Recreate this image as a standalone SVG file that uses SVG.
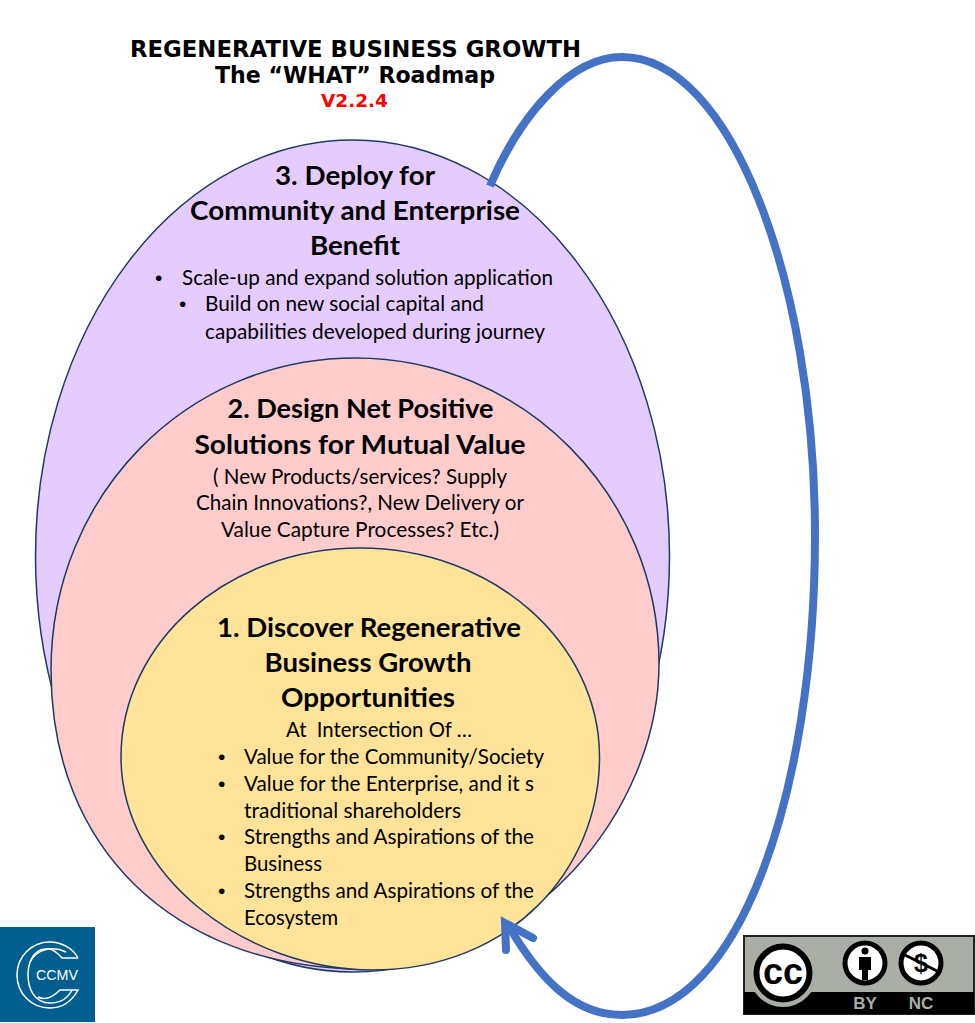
<svg xmlns="http://www.w3.org/2000/svg" width="975" height="1023" viewBox="0 0 975 1023">
<style>
.t{font-family:"DejaVu Sans",sans-serif;font-weight:700;text-anchor:middle;fill:#000}
.h{font-family:Lato,"Open Sans",sans-serif;font-weight:700;font-size:27.500px;text-anchor:middle;fill:#000}
.b{font-family:Lato,"Open Sans",sans-serif;font-size:21px;fill:#000}
.d{font-family:"Liberation Sans",sans-serif;font-size:21px;fill:#000}
.m{text-anchor:middle}
.e{stroke:#1f3864;stroke-width:1.5}
.flow{fill:none;stroke:#4472c4;stroke-width:8}
.w{fill:none;stroke:#fff;stroke-width:1.5}
.l{font-family:"Liberation Sans",sans-serif;text-anchor:middle}
</style>
<rect width="975" height="1023" fill="#fff"/>
<g id="title">
<text class="t" x="355.500" y="56.500" font-size="22.800" textLength="451" lengthAdjust="spacingAndGlyphs">REGENERATIVE BUSINESS GROWTH</text>
<text class="t" x="355" y="83" font-size="22.500" textLength="280" lengthAdjust="spacingAndGlyphs">The “WHAT” Roadmap</text>
<text class="t" x="354.500" y="106.500" font-size="18.500" textLength="67" lengthAdjust="spacingAndGlyphs" style="fill:#f00">V2.2.4</text>
</g>
<g id="node-3">
<ellipse class="e" cx="352.500" cy="556" rx="317" ry="416" fill="#e5ccff"/>
<text class="h" x="355" y="185" textLength="160" lengthAdjust="spacingAndGlyphs">3. Deploy for</text>
<text class="h" x="355" y="220" textLength="330" lengthAdjust="spacingAndGlyphs">Community and Enterprise</text>
<text class="h" x="355" y="255" textLength="90" lengthAdjust="spacingAndGlyphs">Benefit</text>
<text class="d" x="155" y="285">•</text>
<text class="b" x="182" y="285" textLength="371" lengthAdjust="spacingAndGlyphs">Scale-up and expand solution application</text>
<text class="d" x="179" y="311">•</text>
<text class="b" x="205" y="311" textLength="279" lengthAdjust="spacingAndGlyphs">Build on new social capital and</text>
<text class="b" x="205" y="339" textLength="340" lengthAdjust="spacingAndGlyphs">capabilities developed during journey</text>
</g>
<g id="node-2">
<path class="e" d="M355 358C523 358 659 495 659 664C659 810 530 969 355 969C175 965 51 850 51 670C51 495 187 358 355 358Z" fill="#ffcccc"/>
<text class="h" x="360.500" y="418" textLength="266" lengthAdjust="spacingAndGlyphs">2. Design Net Positive</text>
<text class="h" x="360" y="454" textLength="331" lengthAdjust="spacingAndGlyphs">Solutions for Mutual Value</text>
<text class="b m" x="360" y="484" textLength="294" lengthAdjust="spacingAndGlyphs">( New Products/services? Supply</text>
<text class="b m" x="360" y="510" textLength="328" lengthAdjust="spacingAndGlyphs">Chain Innovations?, New Delivery or</text>
<text class="b m" x="360" y="537" textLength="278" lengthAdjust="spacingAndGlyphs">Value Capture Processes? Etc.)</text>
</g>
<g id="node-1">
<path class="e" d="M360 548C492 548 599.500 642 599.500 757C599.500 870 510 970 372 970C245 970 121 875 121 757C121 642 228 548 360 548Z" fill="#ffe399"/>
<text class="h" x="369" y="637" textLength="304" lengthAdjust="spacingAndGlyphs">1. Discover Regenerative</text>
<text class="h" x="368" y="672" textLength="207" lengthAdjust="spacingAndGlyphs">Business Growth</text>
<text class="h" x="368" y="707" textLength="174" lengthAdjust="spacingAndGlyphs">Opportunities</text>
<text class="b m" x="379" y="737" textLength="186" lengthAdjust="spacingAndGlyphs" xml:space="preserve">At  Intersection Of …</text>
<text class="d" x="218" y="764">•</text>
<text class="b" x="244" y="764" textLength="300" lengthAdjust="spacingAndGlyphs">Value for the Community/Society</text>
<text class="d" x="218" y="791">•</text>
<text class="b" x="244" y="791" textLength="290" lengthAdjust="spacingAndGlyphs">Value for the Enterprise, and it s</text>
<text class="b" x="244" y="818" textLength="217" lengthAdjust="spacingAndGlyphs">traditional shareholders</text>
<text class="d" x="218" y="844">•</text>
<text class="b" x="244" y="844" textLength="290" lengthAdjust="spacingAndGlyphs">Strengths and Aspirations of the</text>
<text class="b" x="244" y="871" textLength="78" lengthAdjust="spacingAndGlyphs">Business</text>
<text class="d" x="218" y="898">•</text>
<text class="b" x="244" y="898" textLength="290" lengthAdjust="spacingAndGlyphs">Strengths and Aspirations of the</text>
<text class="b" x="244" y="925" textLength="94" lengthAdjust="spacingAndGlyphs">Ecosystem</text>
</g>
<g id="connectors">
<path class="flow" d="M490 186C520 115 570 57 622 57C730 57 815 280 815 535C815 790 740 1015 622 1015C575 1015 540 980 508 925"/>
<path class="flow" stroke-linecap="round" stroke-linejoin="miter" d="M506 950L505 923L533 938"/>
</g>
<g id="ccmv-logo">
<rect x="0" y="927" width="95" height="95" fill="#005f8f"/>
<path class="w" d="M78 958C72 947 60 942 50 942C31 942 17 957 17 975C17 993 31 1008 50 1008C62 1008 72 1001 78 990H60C52 998 44 1000 38 997"/>
<path class="w" d="M78 958H62C56 951 50 948 45 949C33 950 28 963 28 975C28 988 34 1003 50 1003C60 1003 68 998 72 990"/>
<path class="w" d="M30 962C36 950 52 945 66 952"/>
<text class="l" x="57" y="980" font-size="14" textLength="42" lengthAdjust="spacingAndGlyphs" fill="#fff">CCMV</text>
</g>
<g id="cc-badge">
<rect x="744" y="936" width="230" height="78" fill="#a9afa6" stroke="#222" stroke-width="2"/>
<rect x="744" y="992" width="230" height="22" fill="#000"/>
<circle cx="783" cy="973" r="34" fill="#a9afa6"/>
<circle cx="783" cy="973" r="26.500" fill="#fff" stroke="#000" stroke-width="6"/>
<text class="l" x="783" y="984" font-weight="700" font-size="36" fill="#000">cc</text>
<circle cx="865" cy="963" r="20" fill="#fff" stroke="#000" stroke-width="5"/>
<circle cx="865" cy="951" r="3.500" fill="#000"/>
<path d="M859 957H871V970H868V980H862V970H859Z" fill="#000"/>
<circle cx="921" cy="963" r="20" fill="#fff" stroke="#000" stroke-width="5"/>
<path d="M903 954L939 972" stroke="#000" stroke-width="3"/>
<text class="l" x="921" y="972" font-weight="700" font-size="25" fill="#000">$</text>
<text class="l" x="865" y="1009" font-weight="700" font-size="17" fill="#a9afa6">BY</text>
<text class="l" x="921" y="1009" font-weight="700" font-size="17" fill="#a9afa6">NC</text>
</g>
</svg>
